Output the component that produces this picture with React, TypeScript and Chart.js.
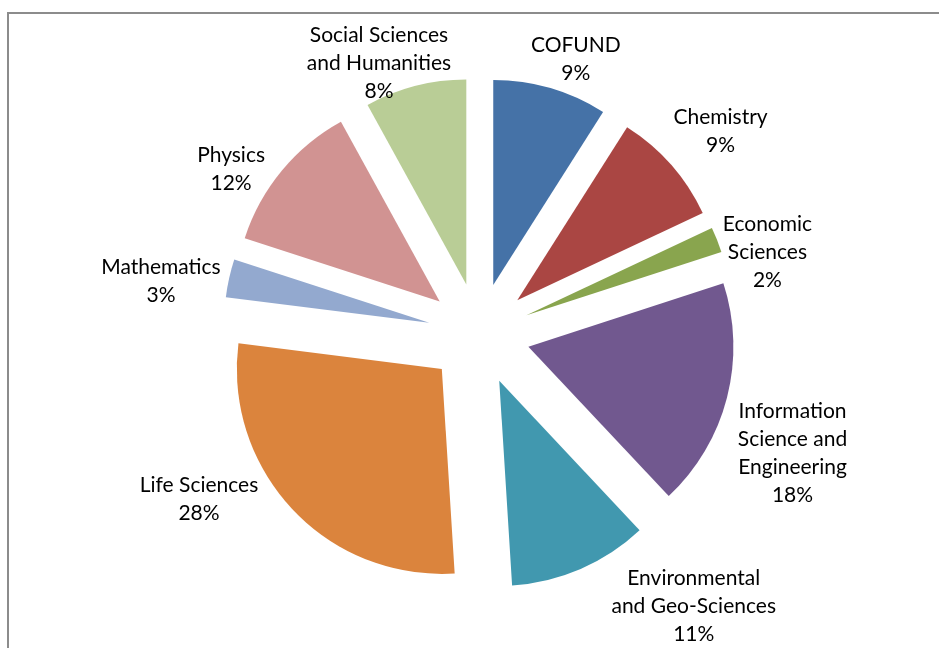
import React, { useEffect, useRef } from "react";
import { Chart, registerables } from "chart.js";

Chart.register(...registerables);

// ---- data ----
const categories: string[][] = [
  ["COFUND"],
  ["Chemistry"],
  ["Economic", "Sciences"],
  ["Information", "Science and", "Engineering"],
  ["Environmental", "and Geo-Sciences"],
  ["Life Sciences"],
  ["Mathematics"],
  ["Physics"],
  ["Social Sciences", "and Humanities"],
];
const shares: number[] = [9, 9, 2, 18, 11, 28, 3, 12, 8];

// ---- styling / layout (not data) ----
const colors = [
  "#4572A7",
  "#AA4643",
  "#89A54E",
  "#71588F",
  "#4198AF",
  "#DB843D",
  "#93A9CF",
  "#D19392",
  "#B9CD96",
];
// label placement relative to each slice bisector (degrees) and radius ratio
const labelAngleShift = [3.2, 1.35, 5.7, 6.4, -14.9, 12.7, -3.1, -6.0, -5.9];
const labelRadiusRatio = [1.422, 1.539, 1.463, 1.636, 1.69, 1.585, 1.573, 1.452, 1.406];

const FONT = "21px Lato, 'Open Sans', sans-serif";
const LINE_H = 28;

const borderPlugin = {
  id: "frameBorder",
  beforeDraw(chart: any) {
    const ctx = chart.ctx;
    ctx.save();
    ctx.fillStyle = "#ffffff";
    ctx.fillRect(0, 0, chart.width, chart.height);
    ctx.strokeStyle = "#8c8c8c";
    ctx.lineWidth = 2;
    ctx.strokeRect(8, 13, 1200, 1200);
    ctx.restore();
  },
};

const explodePlugin = {
  id: "explode",
  beforeDatasetDraw(chart: any, args: any, opts: any) {
    const ctx = chart.ctx;
    const dist = opts.distance || 0;
    ctx.save();
    args.meta.data.forEach((arc: any) => {
      const { x, y, startAngle, endAngle, outerRadius } = arc.getProps(
        ["x", "y", "startAngle", "endAngle", "outerRadius"],
        true
      );
      const mid = (startAngle + endAngle) / 2;
      const cx = x + Math.cos(mid) * dist;
      const cy = y + Math.sin(mid) * dist;
      ctx.beginPath();
      ctx.moveTo(cx, cy);
      ctx.arc(cx, cy, outerRadius, startAngle, endAngle);
      ctx.closePath();
      ctx.fillStyle = arc.options.backgroundColor;
      ctx.fill();
    });
    ctx.restore();
    return false;
  },
  afterDraw(chart: any) {
    const ctx = chart.ctx;
    const meta = chart.getDatasetMeta(0);
    const data = chart.data.datasets[0].data as number[];
    const total = data.reduce((a, b) => a + b, 0);
    ctx.save();
    ctx.font = FONT;
    ctx.fillStyle = "#000000";
    ctx.textAlign = "center";
    ctx.textBaseline = "middle";
    meta.data.forEach((arc: any, i: number) => {
      const { x, y, startAngle, endAngle, outerRadius } = arc.getProps(
        ["x", "y", "startAngle", "endAngle", "outerRadius"],
        true
      );
      const ang = (startAngle + endAngle) / 2 + (labelAngleShift[i] * Math.PI) / 180;
      const r = outerRadius * labelRadiusRatio[i];
      const lx = x + Math.cos(ang) * r;
      const ly = y + Math.sin(ang) * r;
      const lines = [...(chart.data.labels[i] as string[]), Math.round((data[i] / total) * 100) + "%"];
      lines.forEach((t, k) => {
        ctx.fillText(t, lx, ly + (k - (lines.length - 1) / 2) * LINE_H);
      });
    });
    ctx.restore();
  },
};

export default function App() {
  const ref = useRef<HTMLCanvasElement | null>(null);
  useEffect(() => {
    if (!ref.current) return;
    const chart = new Chart(ref.current, {
      type: "pie",
      data: {
        labels: categories as any,
        datasets: [
          {
            data: shares,
            backgroundColor: colors,
            borderWidth: 0,
            radius: 205,
          } as any,
        ],
      },
      options: {
        animation: false,
        responsive: false,
        layout: { padding: { left: 20, right: 1, top: 20, bottom: 0 } },
        plugins: {
          legend: { display: false },
          tooltip: { enabled: false },
          explode: { distance: 51 },
        } as any,
      },
      plugins: [borderPlugin, explodePlugin],
    });
    return () => chart.destroy();
  }, []);
  return (
    <div style={{ position: "fixed", left: 0, top: 0, width: 939, height: 648, background: "#fff" }}>
      <canvas ref={ref} width={939} height={648} style={{ display: "block" }} />
    </div>
  );
}
